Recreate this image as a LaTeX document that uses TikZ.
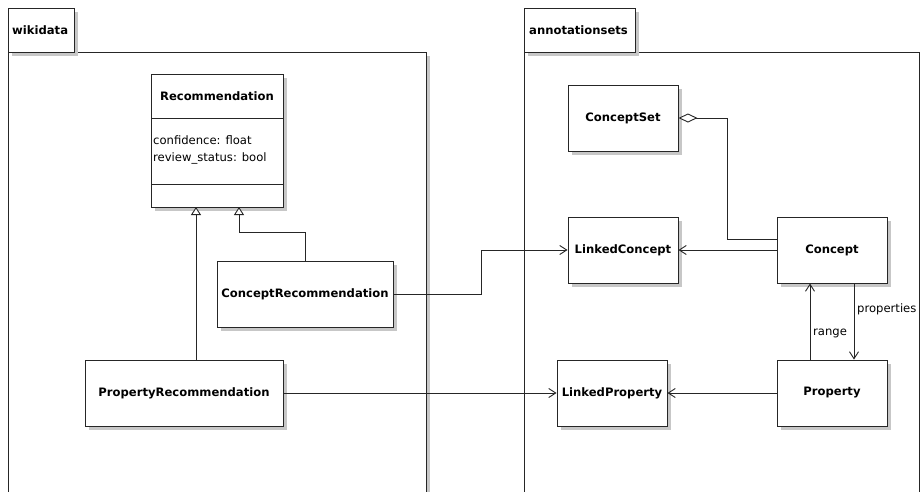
\documentclass[tikz,border=0pt]{standalone}
\usepackage{fontspec}
\setmainfont{DejaVu Sans}
\usetikzlibrary{arrows.meta,shadows,calc}

\tikzset{
  x=1pt, y=-1pt,
  line/.style={draw=black!85, line width=0.9pt},
  shade/.style={drop shadow={shadow xshift=3.5pt, shadow yshift=-3.5pt, fill=black!22, opacity=1}},
  classbox/.style={line, shade, fill=white, rectangle, inner sep=0pt,
    minimum width=110pt, minimum height=66pt, font=\bfseries\fontsize{11.6}{14}\selectfont},
  pkgtab/.style={line, shade, fill=white, rectangle, inner sep=0pt, anchor=north west,
    font=\bfseries\fontsize{11.6}{14}\selectfont},
  txt/.style={inner sep=0pt, font=\fontsize{11.6}{17}\selectfont},
  assoc/.style={line, -{Straight Barb[length=7pt,width=9pt,line width=0.9pt]}},
  gen/.style={line, -{Triangle[open,length=8pt,width=10pt,fill=white]}},
  agg/.style={line, -{Diamond[open,length=19pt,width=9pt,fill=white]}},
}

\begin{document}
\begin{tikzpicture}
\useasboundingbox (0,0) rectangle (920,491);
\clip (0,0) rectangle (920,491);

% packages
\draw[line, shade, fill=white] (8,52) rectangle (426,520);
\node[pkgtab, minimum width=66pt, minimum height=44pt] (wtab) at (8,8) {};
\node[anchor=west, inner sep=0pt, font=\bfseries\fontsize{11.6}{14}\selectfont] (wlabel) at (12,30) {wikidata};

\draw[line, shade, fill=white] (524,52) rectangle (919.5,520);
\node[pkgtab, minimum width=111pt, minimum height=44pt] (atab) at (524,8) {};
\node[anchor=west, inner sep=0pt, font=\bfseries\fontsize{11.6}{14}\selectfont] (alabel) at (529,30) {annotationsets};

% Recommendation class with compartments
\node[classbox, minimum width=132pt, minimum height=133pt] (rec) at (217,140.5) {};
\draw[line] (151,118) -- (283,118);
\draw[line] (151,184) -- (283,184);
\node[inner sep=0pt, font=\bfseries\fontsize{11.6}{14}\selectfont] (recname) at (217,96) {Recommendation};
\node[txt, anchor=north west, align=left] (recattr) at (153,135) {confidence: float\\review\_status: bool};

\node[classbox, minimum width=176pt] (CR) at (305,294) {ConceptRecommendation};
\node[classbox, minimum width=198pt] (PR) at (184,393) {PropertyRecommendation};

\node[classbox] (CS) at (623,118) {ConceptSet};
\node[classbox] (LC) at (623,250) {LinkedConcept};
\node[classbox] (C)  at (832,250) {Concept};
\node[classbox] (LP) at (612,393) {LinkedProperty};
\node[classbox] (P)  at (832,393) {Property};

% generalisations
\coordinate (g1) at (196,207);
\coordinate (g2) at (239,207);
\draw[gen] (PR.north -| g1) -- (g1);
\draw[gen] (CR.north) -- ++(0,-28) -| (g2);

% associations
\draw[assoc] (CR.east) -- ++(88,0) |- (LC.west);
\draw[assoc] (PR.east) -- (LP.west);
\draw[assoc] (C.west) -- (LC.east);
\draw[assoc] (P.west) -- (LP.east);

% aggregation
\draw[agg] ($(C.west)+(0,-11)$) -- ++(-49,0) |- (CS.east);

% range / properties
\coordinate (rx) at (810,0);
\coordinate (px) at (854,0);
\draw[assoc] (P.north -| rx) -- (C.south -| rx);
\draw[assoc] (C.south -| px) -- (P.north -| px);
\node[txt, anchor=west] (rangelbl) at (813,333) {range};
\node[txt, anchor=west] (proplbl) at (857,309) {properties};
\end{tikzpicture}
\end{document}
